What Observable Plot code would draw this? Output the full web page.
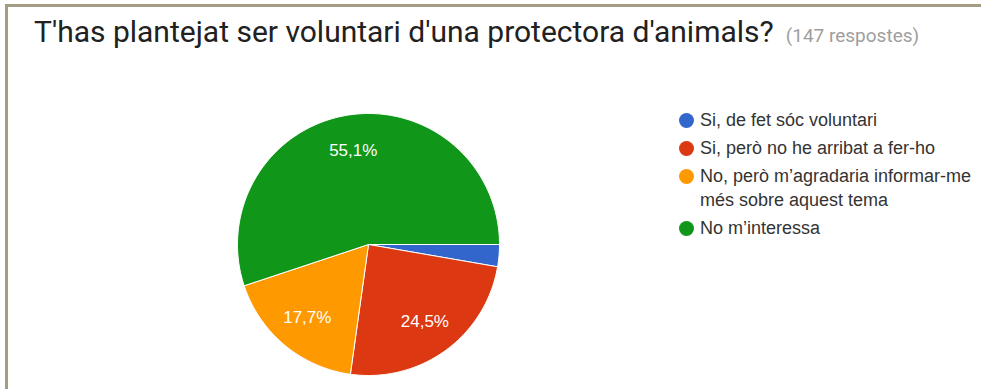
<!DOCTYPE html>
<html>
<head>
<meta charset="utf-8">
<script src="https://cdn.jsdelivr.net/npm/d3@7"></script>
<script src="https://cdn.jsdelivr.net/npm/@observablehq/plot@0.6"></script>
<style>
  html, body { margin: 0; padding: 0; background: #fff; }
  #frame { position: relative; width: 981px; height: 389px; overflow: hidden; }
  #border { position: absolute; left: 5px; top: 4px; width: 980px; height: 390px;
            border-left: 3px solid #a39d84; border-top: 3px solid #a39d84; }
  #title { position: absolute; left: 34px; top: 12px; white-space: nowrap; font-family: Roboto, sans-serif;
           font-size: 30px; line-height: 40px; color: #212121; }
  #title .sub { font-size: 19px; color: #9e9e9e; margin-left: 12px; }
  #chart { position: absolute; left: 0px; top: 63px; }
  #legend { position: absolute; left: 679px; top: 108px; font-family: Arial, "Liberation Sans", sans-serif;
            font-size: 18px; color: #333; }
  #legend .row { display: flex; align-items: flex-start; margin-bottom: 4px; width: 300px; }
  #legend .sw { width: 15px; height: 15px; border-radius: 50%; flex: none; margin-top: 5px; margin-right: 6px; }
  #legend .lab { line-height: 24px; white-space: nowrap; }
</style>
</head>
<body>
<div id="frame">
  <div id="border"></div>
  <div id="title"></div>
  <div id="chart"></div>
  <div id="legend"></div>
</div>
<script>
const titleText = "T'has plantejat ser voluntari d'una protectora d'animals?";
const subtitleText = "(147 respostes)";
const categories = [
  "Si, de fet sóc voluntari",
  "Si, però no he arribat a fer-ho",
  "No, però m’agradaria informar-me més sobre aquest tema",
  "No m’interessa"
];
const legendLines = [
  ["Si, de fet sóc voluntari"],
  ["Si, però no he arribat a fer-ho"],
  ["No, però m’agradaria informar-me", "més sobre aquest tema"],
  ["No m’interessa"]
];
const counts = [4, 36, 26, 81];
const colors = ["#3366cc", "#dc3912", "#ff9900", "#109618"];

// title
const t = document.getElementById("title");
t.textContent = titleText;
const s = document.createElement("span");
s.className = "sub";
s.textContent = subtitleText;
t.appendChild(s);

// pie geometry from the data
const total = d3.sum(counts);
const arcs = d3.pie().sort(null).startAngle(Math.PI / 2).endAngle(Math.PI / 2 + 2 * Math.PI)(counts);
const slicePts = [];
const labels = [];
arcs.forEach((a, i) => {
  const cat = categories[i];
  slicePts.push({cat, x: 0, y: 0});
  const n = Math.max(2, Math.ceil((a.endAngle - a.startAngle) / (Math.PI / 180)));
  for (let k = 0; k <= n; k++) {
    const th = a.startAngle + (a.endAngle - a.startAngle) * k / n;
    slicePts.push({cat, x: Math.sin(th), y: Math.cos(th)});
  }
  slicePts.push({cat, x: 0, y: 0});
  const pct = counts[i] / total * 100;
  if (pct >= 5) {
    const mid = (a.startAngle + a.endAngle) / 2;
    labels.push({x: 0.73 * Math.sin(mid), y: 0.73 * Math.cos(mid),
                 text: pct.toFixed(1).replace(".", ",") + "%"});
  }
});

const cx = 368, cy = 181, r = 131;
const plot = Plot.plot({
  width: 981,
  height: 326,
  margin: 0,
  x: {domain: [-1, 1], range: [cx - r, cx + r], axis: null},
  y: {domain: [-1, 1], range: [cy + r, cy - r], axis: null},
  color: {domain: categories, range: colors},
  style: {background: "transparent"},
  marks: [
    Plot.line(slicePts, {x: "x", y: "y", z: "cat", fill: "cat", stroke: "white", strokeWidth: 1, curve: "linear"}),
    Plot.text(labels, {x: "x", y: "y", text: "text", fill: "white", fontSize: 17,
                       fontFamily: "Arial, 'Liberation Sans', sans-serif"})
  ]
});
document.getElementById("chart").appendChild(plot);

// legend
const lg = document.getElementById("legend");
const colorScale = plot.scale("color");
categories.forEach((c, i) => {
  const row = document.createElement("div");
  row.className = "row";
  const sw = document.createElement("div");
  sw.className = "sw";
  sw.style.background = colorScale.range[i];
  const lab = document.createElement("div");
  lab.className = "lab";
  lab.innerHTML = legendLines[i].map(l => l.replace(/&/g, "&amp;").replace(/</g, "&lt;")).join("<br>");
  row.appendChild(sw);
  row.appendChild(lab);
  lg.appendChild(row);
});
</script>
</body>
</html>
